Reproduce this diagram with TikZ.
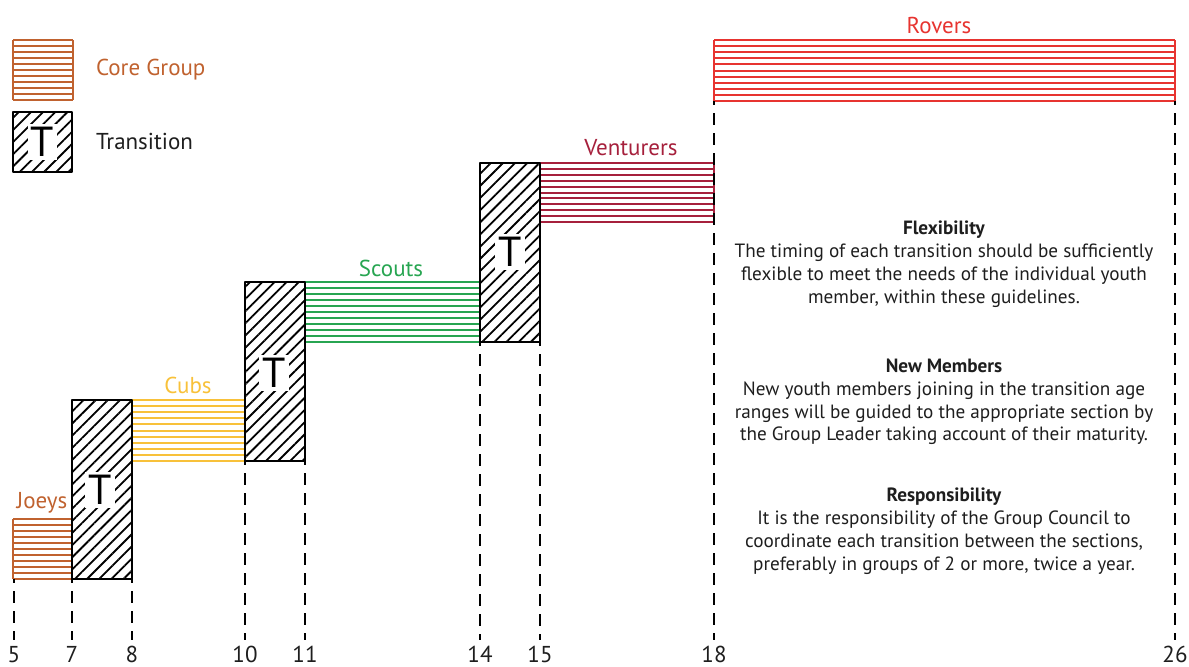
\documentclass[tikz,border=0pt]{standalone}
\usepackage{fontspec}
\setmainfont{PT Sans}
\usetikzlibrary{patterns.meta}
\definecolor{joeycol}{HTML}{C0622F}
\definecolor{cubcol}{HTML}{F8C13A}
\definecolor{scoutcol}{HTML}{27A551}
\definecolor{ventcol}{HTML}{A6203C}
\definecolor{rovercol}{HTML}{E73430}
\definecolor{textgrey}{HTML}{1E1E1E}

\newcommand{\coregroup}[5]{% colour, x1, y1, x2, y2
  \foreach \k in {0,...,10}
    \draw[#1,line width=1pt] (#2,{#3+\k*(#5-#3)/10}) -- (#4,{#3+\k*(#5-#3)/10});
  \draw[#1,line width=1pt] (#2,#3) -- (#2,#5) (#4,#3) -- (#4,#5);
}

\begin{document}
\begin{tikzpicture}[line join=round,x=.5pt,y=-.5pt,
  trans/.style={draw=black,line width=1pt,pattern={Lines[angle=45,distance=4.3pt,line width=.9pt]},pattern color=black},
  tletter/.style={fill=white,inner sep=1.5pt,font=\fontsize{21}{21}\selectfont},
  lbl/.style={font=\fontsize{11.5}{13}\selectfont},
  year/.style={font=\fontsize{11.5}{12}\selectfont,text=textgrey,inner sep=0pt,anchor=base},
  guide/.style={line width=.9pt,dash pattern=on 6pt off 4pt,dash phase=4pt},
  info/.style={align=center,text=textgrey,font=\fontsize{9.6}{11.4}\selectfont}]
\useasboundingbox (0,0) rectangle (1189,666);

% legend
\coregroup{joeycol}{13}{40}{73}{100}
\node[lbl,text=joeycol,anchor=west] (corelbl) at (89,70) {Core Group};
\draw[trans] (13,112) rectangle (72,172);
\node[tletter] (tlegend) at (42.5,142) {T};
\node[lbl,text=textgrey,anchor=west] (translbl) at (89,141) {Transition};

% sections
\coregroup{joeycol}{13}{519}{72}{579}
\coregroup{cubcol}{132}{400}{245}{461}
\coregroup{scoutcol}{305}{282}{480}{342}
\coregroup{ventcol}{540}{163}{714}{222}
\coregroup{rovercol}{714}{40}{1175}{101}
\node[lbl,text=joeycol] (joeys) at (42,503) {Joeys};
\node[lbl,text=cubcol] (cubs) at (188,385) {Cubs};
\node[lbl,text=scoutcol] (scouts) at (391,268) {Scouts};
\node[lbl,text=ventcol] (venturers) at (631,148) {Venturers};
\node[lbl,text=rovercol] (rovers) at (939,25) {Rovers};

% transitions
\draw[trans] (72,400) rectangle (132,579);
\node[tletter] (t1) at (100,490) {T};
\draw[trans] (245,282) rectangle (305,461);
\node[tletter] (t2) at (274,373) {T};
\draw[trans] (480,163) rectangle (540,342);
\node[tletter] (t3) at (510,252) {T};

% ages
\foreach \a/\x/\y in {5/14/579,7/72/579,8/132/579,10/245/461,11/305/461,14/480/342,15/540/342,18/714/101,26/1175/101}{
  \node[year] (y\a) at (\x,662) {\a};
  \draw[guide] (\x,\y) -- (\x,640);
}

% notes
\node[info] (flex) at (944,264) {\textbf{Flexibility}\\The timing of each transition should be sufficiently\\flexible to meet the needs of the individual youth\\member, within these guidelines.};
\node[info] (newmem) at (944,402) {\textbf{New Members}\\New youth members joining in the transition age\\ranges will be guided to the appropriate section by\\the Group Leader taking account of their maturity.};
\node[info] (resp) at (944,531) {\textbf{Responsibility}\\It is the responsibility of the Group Council to\\coordinate each transition between the sections,\\preferably in groups of 2 or more, twice a year.};
\end{tikzpicture}
\end{document}
